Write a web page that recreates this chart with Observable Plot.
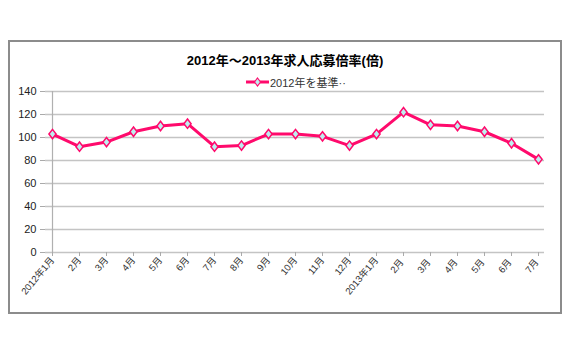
<!DOCTYPE html>
<html>
<head>
<meta charset="utf-8">
<script src="https://cdn.jsdelivr.net/npm/d3@7"></script>
<script src="https://cdn.jsdelivr.net/npm/@observablehq/plot@0.6"></script>
<style>
  html, body { margin: 0; padding: 0; background: #fff; }
  body { font-family: "Liberation Sans", Arial, "Noto Sans CJK JP", sans-serif; }
  #wrap { position: relative; width: 570px; height: 360px; overflow: hidden; background: #fff; }
  #frame { position: absolute; left: 8px; top: 40px; width: 554px; height: 274px; box-sizing: border-box; border: 2px solid #8c8c8c; pointer-events: none; }
  #title { position: absolute; left: 0; top: 53px; width: 570px; text-align: center; font-size: 13px; font-weight: bold; line-height: 16px; color: #000; }
  #legend { position: absolute; left: 246px; top: 74px; height: 16px; display: flex; align-items: center; font-size: 11px; color: #333; }
  #chart { position: absolute; left: 0; top: 0; }
</style>
</head>
<body>
<div id="wrap">
  <div id="chart"></div>
  <div id="title"></div>
  <div id="legend"><svg width="23" height="12" style="margin-right:1px"><line x1="0" x2="23" y1="6" y2="6" stroke="#ff0a6c" stroke-width="3"/><path d="M11.5,2 L14.5,6 L11.5,10 L8.5,6 Z" fill="#bdeff0" stroke="#ff0a6c" stroke-width="1.2"/></svg><span id="legendText"></span></div>
  <div id="frame"></div>
</div>
<script>
const months = ["2012年1月","2月","3月","4月","5月","6月","7月","8月","9月","10月","11月","12月",
                "2013年1月","2月 ","3月 ","4月 ","5月 ","6月 ","7月 "];
const values = [103, 92, 96, 105, 110, 112, 92, 93, 103, 103, 101, 93, 103, 122, 111, 110, 105, 95, 81];
const yTicks = [0, 20, 40, 60, 80, 100, 120, 140];
const seriesName = "2012年を基準··";
const titleText = "2012年～2013年求人応募倍率(倍)";

document.getElementById("title").textContent = titleText;
document.getElementById("legendText").textContent = seriesName;

const data = months.map((m, i) => ({month: m, value: values[i]}));
const pink = "#ff0a6c";

const diamondSymbol = {
  draw(context, size) {
    const r = Math.sqrt(size / Math.PI);
    const h = r * 1.3, w = r;
    context.moveTo(0, -h);
    context.lineTo(w, 0);
    context.lineTo(0, h);
    context.lineTo(-w, 0);
    context.closePath();
  }
};

const chart = Plot.plot({
  width: 570,
  height: 320,
  marginTop: 91,
  marginBottom: 68,
  marginLeft: 45,
  marginRight: 26,
  style: {background: "transparent", fontFamily: '"Liberation Sans", Arial, "Noto Sans CJK JP", sans-serif'},
  x: {type: "point", domain: months, padding: 0},
  y: {domain: [0, 140]},
  marks: [
    Plot.gridY(yTicks, {stroke: "#c4c4c4", strokeOpacity: 1, strokeWidth: 1.5}),
    Plot.ruleX([months[0]], {y1: 0, y2: 140, stroke: "#b0b0b0", strokeWidth: 1.2}),
    Plot.axisY({ticks: yTicks, tickSize: 5, tickPadding: 4, fontSize: 11, stroke: "#aaa", fill: "#222", label: null}),
    Plot.axisX({tickSize: 4, tickPadding: 2, tickRotate: -50, fontSize: 9.5, stroke: "#aaa", fill: "#333", label: null}),
    Plot.line(data, {x: "month", y: "value", stroke: pink, strokeWidth: 3}),
    Plot.dot(data, {x: "month", y: "value", symbol: diamondSymbol, r: 3.6, fill: "#bdeff0", stroke: pink, strokeWidth: 1.5})
  ]
});
document.getElementById("chart").appendChild(chart);
</script>
</body>
</html>
